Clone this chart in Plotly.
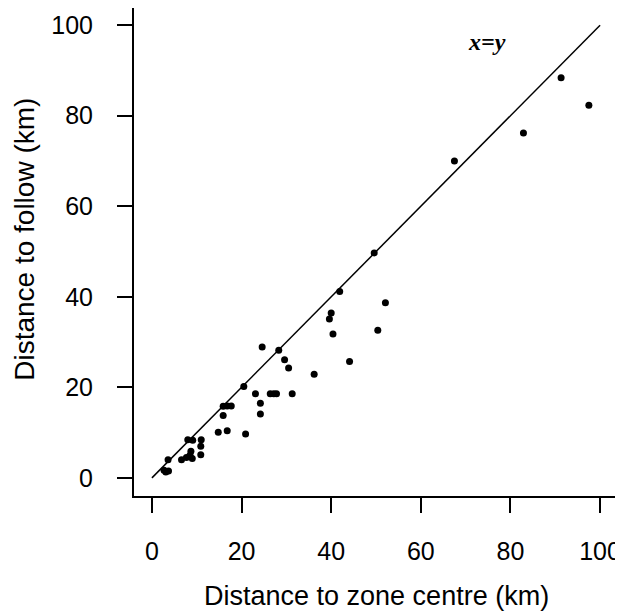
import plotly.graph_objects as go

# Distance to zone centre (km)
zone_centre = [91.3, 97.5, 82.9, 67.5, 49.6, 41.9, 52.1, 40.0, 39.6, 40.4,
               50.4, 44.1, 24.6, 28.3, 29.6, 30.5, 36.2, 20.5, 23.1, 26.4,
               27.2, 27.8, 31.3, 24.2, 24.2, 15.9, 16.8, 17.7, 15.9, 14.8,
               16.8, 20.9, 8.0, 9.1, 11.0, 10.9, 8.7, 10.9, 8.5, 7.7,
               6.6, 9.0, 3.6, 2.7, 3.7, 3.1]
# Distance to follow (km)
follow = [88.4, 82.3, 76.2, 70.0, 49.7, 41.2, 38.7, 36.4, 35.1, 31.8,
          32.6, 25.7, 28.9, 28.2, 26.1, 24.3, 22.9, 20.2, 18.6, 18.6,
          18.6, 18.6, 18.6, 16.5, 14.1, 15.8, 15.9, 15.9, 13.8, 10.1,
          10.4, 9.7, 8.4, 8.3, 8.4, 7.0, 5.9, 5.1, 5.0, 4.5,
          4.0, 4.3, 4.0, 1.7, 1.5, 1.3]

identity_x = [0, 100]
identity_y = [0, 100]

tick_vals = [0, 20, 40, 60, 80, 100]
tick_text = ["0", "20", "40", "60", "80", "100"]

fig = go.Figure()
fig.add_trace(go.Scatter(x=identity_x, y=identity_y, mode="lines",
                         line=dict(color="black", width=1.5),
                         showlegend=False, hoverinfo="skip"))
fig.add_trace(go.Scatter(x=zone_centre, y=follow, mode="markers",
                         marker=dict(color="black", size=7),
                         showlegend=False))

font_main = "Liberation Sans, Arial, sans-serif"

axis_common = dict(
    showgrid=False, zeroline=False,
    showline=True, linecolor="black", linewidth=2,
    ticks="outside", ticklen=15, tickwidth=2, tickcolor="black",
    tickvals=tick_vals, ticktext=tick_text,
    tickfont=dict(family=font_main, size=25, color="black"),
)

fig.update_layout(
    width=615, height=608,
    margin=dict(l=126, r=5, t=0, b=120),
    paper_bgcolor="white", plot_bgcolor="white",
    xaxis=dict(**axis_common, range=[-4, 104], ticklabelstandoff=17),
    yaxis=dict(**axis_common, range=[-4, 103.8], ticklabelstandoff=19),
    annotations=[
        dict(text="Distance to zone centre (km)", xref="paper", yref="paper",
             x=0.5, y=0, yshift=-100, xanchor="center", yanchor="middle",
             showarrow=False, font=dict(family=font_main, size=27, color="black")),
        dict(text="Distance to follow (km)", xref="paper", yref="paper",
             x=0, y=0.525, xshift=-109, xanchor="center", yanchor="middle",
             textangle=-90, showarrow=False,
             font=dict(family=font_main, size=28, color="black")),
        dict(text="<b><i>x=y</i></b>", xref="x", yref="y", x=74.7, y=96.2,
             xanchor="center", yanchor="middle", showarrow=False,
             font=dict(family="Liberation Serif, Times New Roman, serif",
                       size=24, color="black")),
    ],
)

fig.write_html("out.html")
